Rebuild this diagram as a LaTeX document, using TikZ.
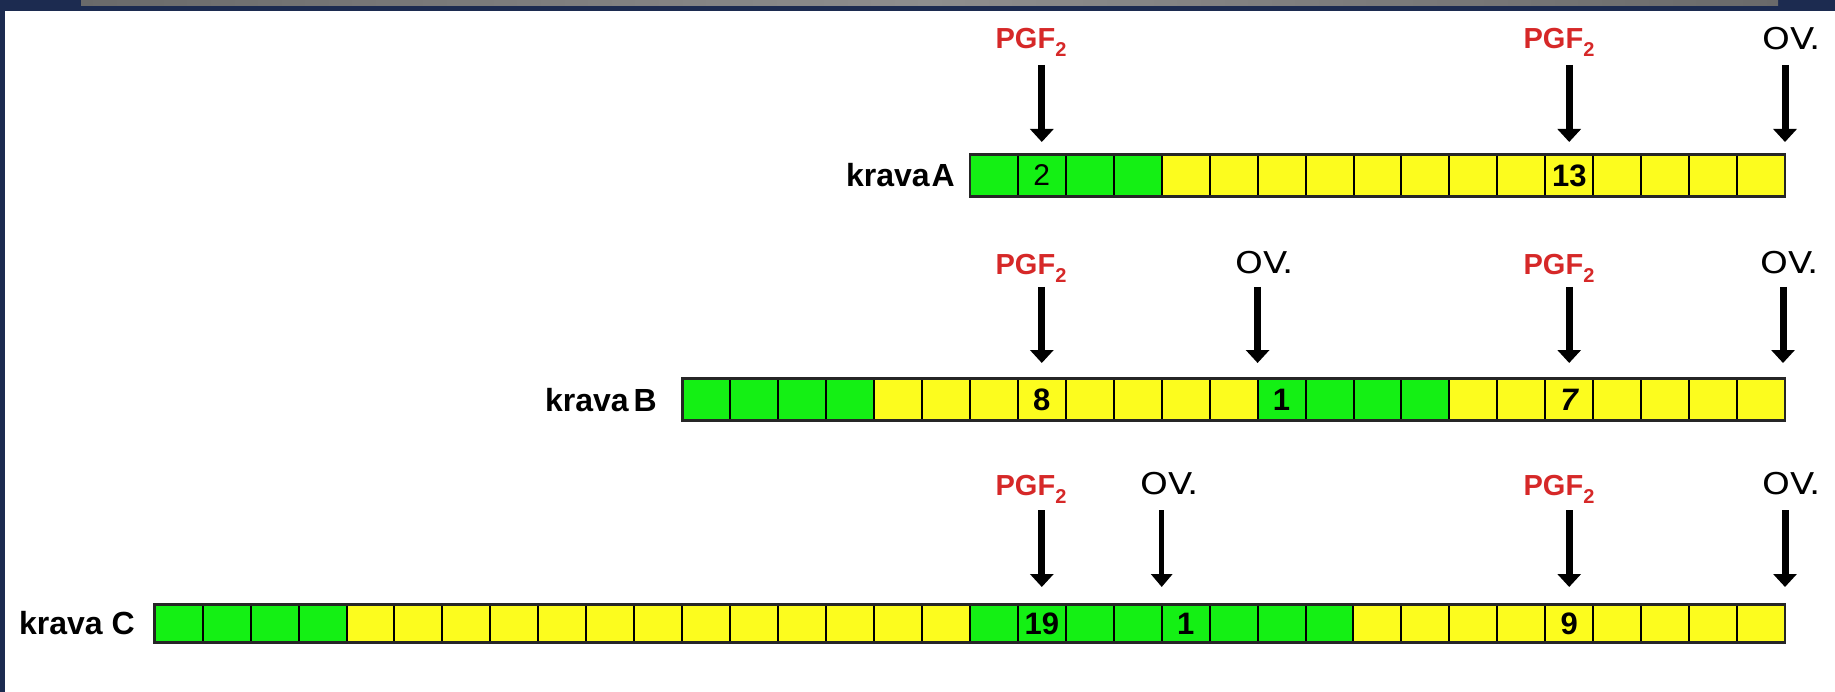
\documentclass[tikz,border=0pt]{standalone}
\usepackage{fontspec}
\setmainfont{Liberation Sans}
\newfontfamily\ovfont{DejaVu Sans}
\usetikzlibrary{arrows.meta}
\definecolor{navy}{HTML}{1C2B50}
\definecolor{cellG}{HTML}{14F014}
\definecolor{cellY}{HTML}{FCFC1E}
\definecolor{pred}{HTML}{D62828}
\definecolor{barg}{HTML}{6A6A6A}
\definecolor{barl}{HTML}{8E8E8E}
\tikzset{
  cellbox/.style={draw=black, line width=2pt, minimum width=47.95pt, inner sep=0pt, outer sep=0pt},
  numtext/.style={inner sep=0pt, font=\fontsize{31}{32}\selectfont\bfseries},
  cowlabel/.style={anchor=east, inner sep=0pt, font=\fontsize{32}{36}\selectfont\bfseries},
  pgflabel/.style={anchor=base, inner sep=0pt, text=pred, font=\fontsize{29}{32}\selectfont\bfseries},
  ovlabel/.style={anchor=base, inner sep=0pt, font=\fontsize{30}{34}\selectfont\ovfont},
  bigarrow/.style={line width=7pt, -{Triangle[width=23pt,length=13pt]}},
  thinarrow/.style={line width=5.5pt, -{Triangle[width=21pt,length=13pt]}},
  outerframe/.style={draw=black!85, line width=2.6pt},
}
\newcommand{\pgftwo}{PGF\raisebox{-8pt}{\fontsize{20}{20}\selectfont 2}}
\newcommand{\ovtext}{\scalebox{1.18}[1]{OV.}}
\begin{document}
\begin{tikzpicture}[x=1pt,y=-1pt]
\useasboundingbox (0,0) rectangle (1835,692);
\fill[navy] (0,0) rectangle (1835,692);
\fill[white] (5,11) rectangle (1835,692);
\shade[left color=barg, right color=barg, middle color=barl] (81,0) rectangle (1778,6);

% ---------- row A ----------
\foreach \c [count=\i] in {G,G,G,G,Y,Y,Y,Y,Y,Y,Y,Y,Y,Y,Y,Y,Y}
  \node[cellbox, minimum height=42pt, fill=cell\c] (A\i) at ({969.9+(\i-0.5)*47.95},175.5) {};
\draw[outerframe] (A1.north west) rectangle (A17.south east);
\node[numtext, font=\fontsize{30}{32}\selectfont] (nA2) at (A2.center) {2};
\node[numtext] (nA13) at (A13.center) {13};
\node[cowlabel] (kA) at (955,175.5) {krava\hspace{2pt}A};
\node[pgflabel] (pA1) at (1031,49) {\pgftwo};
\node[pgflabel] (pA2) at (1559,49) {\pgftwo};
\node[ovlabel] (oA1) at (1792,50) {\ovtext};
\coordinate (a1s) at (1041.8,65);  \coordinate (a1e) at (1041.8,142);
\coordinate (a2s) at (1569.2,65);  \coordinate (a2e) at (1569.2,142);
\coordinate (a3s) at (1785,65);    \coordinate (a3e) at (1785,142);
\draw[bigarrow] (a1s) -- (a1e);
\draw[bigarrow] (a2s) -- (a2e);
\draw[bigarrow] (a3s) -- (a3e);

% ---------- row B ----------
\foreach \c [count=\i] in {G,G,G,G,Y,Y,Y,Y,Y,Y,Y,Y,G,G,G,G,Y,Y,Y,Y,Y,Y,Y}
  \node[cellbox, minimum height=42pt, fill=cell\c] (B\i) at ({682.2+(\i-0.5)*47.95},399.5) {};
\draw[outerframe] (B1.north west) rectangle (B23.south east);
\node[numtext] (nB8) at (B8.center) {8};
\node[numtext] (nB13) at (B13.center) {1};
\node[numtext] (nB19) at (B19.center) {\itshape 7};
\node[cowlabel] (kB) at (657,400.5) {krava\hspace{5pt}B};
\node[pgflabel] (pB1) at (1031,275) {\pgftwo};
\node[ovlabel] (oB1) at (1265,274) {\ovtext};
\node[pgflabel] (pB2) at (1559,275) {\pgftwo};
\node[ovlabel] (oB2) at (1790,274) {\ovtext};
\coordinate (b1s) at (1041.8,287); \coordinate (b1e) at (1041.8,363);
\coordinate (b2s) at (1257.6,287); \coordinate (b2e) at (1257.6,363);
\coordinate (b3s) at (1569.2,287); \coordinate (b3e) at (1569.2,363);
\coordinate (b4s) at (1783,287);   \coordinate (b4e) at (1783,363);
\draw[bigarrow] (b1s) -- (b1e);
\draw[bigarrow] (b2s) -- (b2e);
\draw[bigarrow] (b3s) -- (b3e);
\draw[bigarrow] (b4s) -- (b4e);

% ---------- row C ----------
\foreach \c [count=\i] in {G,G,G,G,Y,Y,Y,Y,Y,Y,Y,Y,Y,Y,Y,Y,Y,G,G,G,G,G,G,G,G,Y,Y,Y,Y,Y,Y,Y,Y,Y}
  \node[cellbox, minimum height=38.5pt, fill=cell\c] (C\i) at ({154.7+(\i-0.5)*47.95},623.5) {};
\draw[outerframe] (C1.north west) rectangle (C34.south east);
\node[numtext] (nC19) at (C19.center) {19};
\node[numtext] (nC22) at (C22.center) {1};
\node[numtext] (nC30) at (C30.center) {9};
\node[cowlabel] (kC) at (135,623.5) {krava C};
\node[pgflabel] (pC1) at (1031,495) {\pgftwo};
\node[ovlabel] (oC1) at (1170,494) {\ovtext};
\node[pgflabel] (pC2) at (1559,495) {\pgftwo};
\node[ovlabel] (oC2) at (1792,494) {\ovtext};
\coordinate (c1s) at (1041.8,510); \coordinate (c1e) at (1041.8,587);
\coordinate (c2s) at (1161.7,510); \coordinate (c2e) at (1161.7,587);
\coordinate (c3s) at (1569.2,510); \coordinate (c3e) at (1569.2,587);
\coordinate (c4s) at (1785,510);   \coordinate (c4e) at (1785,587);
\draw[bigarrow] (c1s) -- (c1e);
\draw[thinarrow] (c2s) -- (c2e);
\draw[bigarrow] (c3s) -- (c3e);
\draw[bigarrow] (c4s) -- (c4e);
\end{tikzpicture}
\end{document}
